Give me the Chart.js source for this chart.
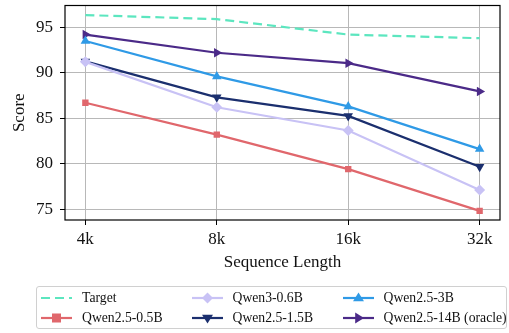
<!DOCTYPE html>
<html>
<head>
<meta charset="utf-8">
<script src="https://cdn.jsdelivr.net/npm/chart.js@4"></script>
<style>
  html, body { margin: 0; padding: 0; background: #fff; }
  #wrap { position: relative; width: 509px; height: 333px; }
  #legend {
    position: absolute; left: 36px; top: 286px; width: 471px; height: 43px;
    border: 1px solid #d0d0d0; border-radius: 3px; box-sizing: border-box;
    font-family: "Liberation Serif", "DejaVu Serif", serif; font-size: 13.7px; color: #111;
  }
  .item { position: absolute; height: 20px; }
  .item svg { position: absolute; left: 0; top: 0; }
  .item span { position: absolute; left: 41px; top: 0; line-height: 20px; white-space: nowrap; }
</style>
</head>
<body>
<div id="wrap">
  <canvas id="chart" width="509" height="333"></canvas>
  <div id="legend"></div>
</div>
<script>
document.addEventListener('DOMContentLoaded', function() {
    const categories = ['4k', '8k', '16k', '32k'];
    const yTicks = [75, 80, 85, 90, 95];

    const target = [96.35, 95.9, 94.2, 93.8];
    const qwen05 = [86.7, 83.2, 79.4, 74.8];
    const qwen3_06 = [91.2, 86.2, 83.65, 77.1];
    const qwen15 = [91.25, 87.3, 85.25, 79.65];
    const qwen3b = [93.5, 89.6, 86.3, 81.6];
    const qwen14 = [94.2, 92.2, 91.05, 87.95];

    const series = [
        { label: 'Target', data: target, color: '#5ce6bf', style: false, dash: [9, 5] },
        { label: 'Qwen2.5-0.5B', data: qwen05, color: '#e0676c', style: 'rect', rot: 0 },
        { label: 'Qwen3-0.6B', data: qwen3_06, color: '#c8c2f5', style: 'rectRot', rot: 0 },
        { label: 'Qwen2.5-1.5B', data: qwen15, color: '#1b2f6e', style: 'triangle', rot: 180 },
        { label: 'Qwen2.5-3B', data: qwen3b, color: '#2f9ae6', style: 'triangle', rot: 0 },
        { label: 'Qwen2.5-14B (oracle)', data: qwen14, color: '#4b2a88', style: 'triangle', rot: 90 },
    ];

    const font = { family: '"Liberation Serif", "DejaVu Serif", serif', size: 17 };

    const frame = {
        id: 'frame',
        afterDraw(chart) {
            const a = chart.chartArea, c = chart.ctx;
            c.save();
            c.strokeStyle = '#000';
            c.lineWidth = 1.2;
            c.strokeRect(a.left, a.top, a.right - a.left, a.bottom - a.top);
            c.restore();
        }
    };

    const ctx = document.getElementById('chart').getContext('2d');
    new Chart(ctx, {
        type: 'line',
        data: {
            datasets: series.map(s => ({
                label: s.label,
                data: s.data.map((v, i) => ({ x: i, y: v })),
                borderColor: s.color,
                backgroundColor: s.color,
                borderWidth: 2.2,
                borderDash: s.dash || [],
                pointStyle: s.style,
                pointRotation: s.rot || 0,
                pointRadius: s.style ? (s.style === 'rect' ? 4.5 : 5.5) : 0,
                pointHoverRadius: 0,
                pointBorderWidth: 0,
                tension: 0,
                fill: false,
            }))
        },
        options: {
            responsive: false,
            animation: false,
            layout: { padding: { left: 9, right: 9, top: 5, bottom: 60 } },
            plugins: { legend: { display: false }, tooltip: { enabled: false } },
            scales: {
                x: {
                    type: 'linear',
                    min: -0.155,
                    max: 3.155,
                    afterBuildTicks: s => { s.ticks = categories.map((c, i) => ({ value: i })); },
                    afterFit: s => { s.height = 53; s.paddingLeft = 0; s.paddingRight = 0; },
                    ticks: { callback: v => categories[v], color: '#111', font: font, padding: 4, maxRotation: 0 },
                    grid: { color: '#b8b8b8', lineWidth: 1, tickColor: '#000', tickLength: 5 },
                    border: { display: false },
                    title: { display: true, text: 'Sequence Length', color: '#111', font: font, padding: 0 }
                },
                y: {
                    min: 73.8,
                    max: 97.4,
                    afterBuildTicks: s => { s.ticks = yTicks.map(v => ({ value: v })); },
                    afterFit: s => { s.width = 56; s.paddingTop = 0; s.paddingBottom = 0; },
                    ticks: { color: '#111', font: font, padding: 7 },
                    grid: { color: '#b8b8b8', lineWidth: 1, tickColor: '#000', tickLength: 5 },
                    border: { display: false },
                    title: { display: true, text: 'Score', color: '#111', font: font, padding: 0 }
                }
            }
        },
        plugins: [frame]
    });

    // legend laid out in 3 columns, column-major like the reference
    const order = [0, 1, 2, 3, 4, 5];
    const colX = [4, 154.5, 305.5];
    const rowY = [1, 21];
    const legend = document.getElementById('legend');
    function marker(s) {
        const cx = 15.5, cy = 10, r = 5.5;
        if (s.style === 'rect') return `<rect x="${cx - 4.5}" y="${cy - 4.5}" width="9" height="9" fill="${s.color}"/>`;
        if (s.style === 'rectRot') return `<polygon points="${cx},${cy - r} ${cx + r},${cy} ${cx},${cy + r} ${cx - r},${cy}" fill="${s.color}"/>`;
        if (s.style === 'triangle') {
            return `<polygon points="${cx},${cy - r} ${cx + r},${cy + r * 0.6} ${cx - r},${cy + r * 0.6}" fill="${s.color}" transform="rotate(${s.rot} ${cx} ${cy})"/>`;
        }
        return '';
    }
    order.forEach((idx, k) => {
        const s = series[idx];
        const col = Math.floor(k / 2), row = k % 2;
        const el = document.createElement('div');
        el.className = 'item';
        el.style.left = colX[col] + 'px';
        el.style.top = rowY[row] + 'px';
        const dash = s.dash ? `stroke-dasharray="${s.dash.join(' ')}"` : '';
        el.innerHTML = `<svg width="32" height="20"><line x1="0" y1="10" x2="31" y2="10" stroke="${s.color}" stroke-width="2.2" ${dash}/>${marker(s)}</svg><span>${s.label}</span>`;
        legend.appendChild(el);
    });
});
</script>
</body>
</html>
